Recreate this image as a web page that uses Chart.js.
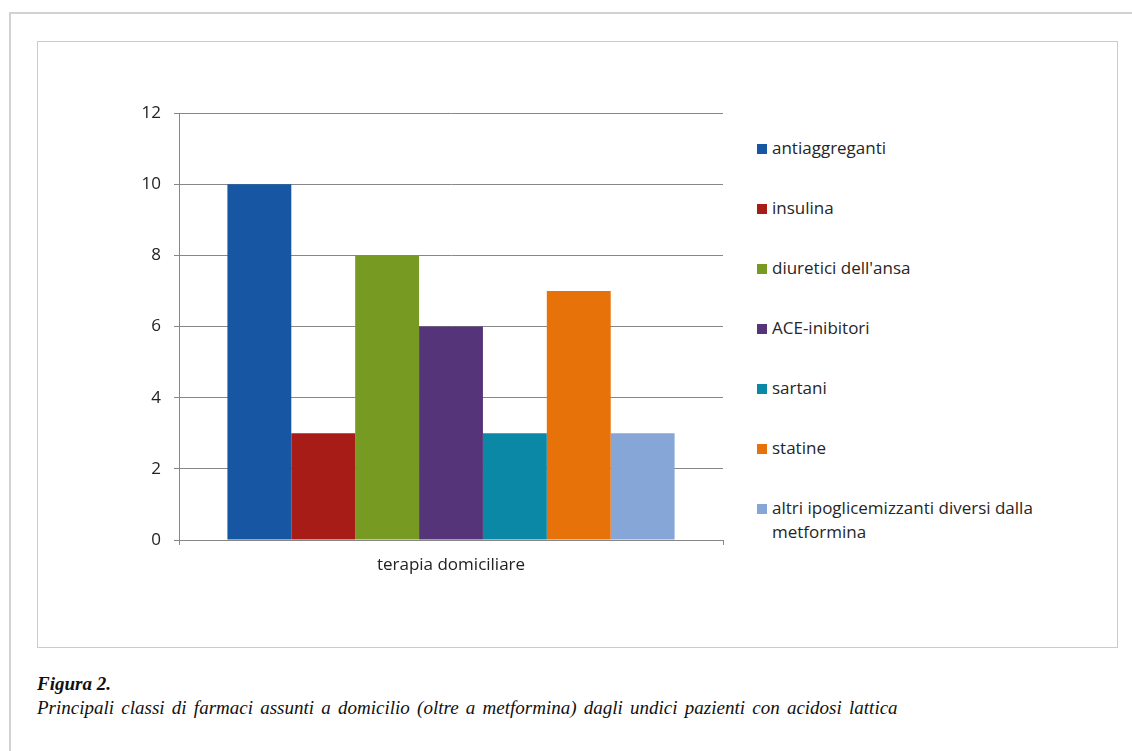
<!DOCTYPE html>
<html>
<head>
<meta charset="utf-8">
<script src="https://cdn.jsdelivr.net/npm/chart.js@4"></script>
<style>
    html, body { margin: 0; padding: 0; background: #fff; }
    body { width: 1132px; height: 751px; position: relative; overflow: hidden; }
    .outer { position: absolute; left: 9px; top: 12px; width: 1140px; height: 760px;
             border-left: 2px solid #d2d2d2; border-top: 2px solid #d2d2d2; }
    .inner { position: absolute; left: 37px; top: 41px; width: 1079px; height: 605px;
             border: 1px solid #cbcbcb; }
    #wrap { position: absolute; left: 100px; top: 90px; width: 640px; height: 500px; }
    #legend { position: absolute; left: 756px; top: 136px; width: 300px;
              font-family: "Open Sans", Lato, sans-serif; font-size: 17px; color: #262626; }
    .item { position: relative; padding-left: 16px; height: 60px; line-height: 24px; }
    .sw { position: absolute; left: 1px; top: 8px; width: 10px; height: 10px; }
    .caption { position: absolute; left: 37px; top: 672px; font-family: "Liberation Serif", serif;
               font-style: italic; font-size: 19px; color: #111; line-height: 24px; }
    .caption b { font-weight: bold; }
</style>
</head>
<body>
<div class="outer"></div>
<div class="inner"></div>
<div id="wrap"><canvas id="farmaciChart"></canvas></div>
<div id="legend"></div>
<div class="caption">
    <b>Figura 2.</b><br>
    <span style="word-spacing: 2.5px">Principali classi di farmaci assunti a domicilio (oltre a metformina) dagli undici pazienti con acidosi lattica</span>
</div>

<script>
// DATA
const categories = ['terapia domiciliare'];
const classi = ['antiaggreganti', 'insulina', "diuretici dell'ansa", 'ACE-inibitori',
                'sartani', 'statine', 'altri ipoglicemizzanti diversi dalla metformina'];
const pazienti = [10, 3, 8, 6, 3, 7, 3];
const colori = ['#1656a2', '#a71c17', '#779a22', '#553479', '#0b88a6', '#e8720a', '#86a6d7'];
const yTicks = [0, 2, 4, 6, 8, 10, 12];

const axisColor = '#878787';
const fontFam   = '"Open Sans", Lato, sans-serif';

// legend (html, so the long label can wrap like the original)
const legendEl = document.getElementById('legend');
classi.forEach((c, i) => {
    const item = document.createElement('div');
    item.className = 'item';
    item.innerHTML = `<span class="sw" style="background:${colori[i]}"></span>${c}`;
    legendEl.appendChild(item);
});

const ctx = document.getElementById('farmaciChart').getContext('2d');
new Chart(ctx, {
    type: 'bar',
    data: {
        labels: categories,
        datasets: classi.map((c, i) => ({
            label: c,
            data: [pazienti[i]],
            backgroundColor: colori[i],
            borderWidth: 0
        }))
    },
    options: {
        responsive: true,
        maintainAspectRatio: false,
        animation: false,
        layout: { padding: { top: 22, right: 17, left: 0, bottom: 0 } },
        plugins: {
            legend: { display: false },
            tooltip: { enabled: false }
        },
        datasets: {
            bar: { categoryPercentage: 0.822, barPercentage: 1 }
        },
        scales: {
            y: {
                min: 0,
                max: 12,
                afterFit: scale => { scale.width = 79; },
                afterBuildTicks: scale => { scale.ticks = yTicks.map(v => ({ value: v })); },
                border: { display: true, color: axisColor, width: 1 },
                grid: { color: axisColor, lineWidth: 1, tickLength: 5, drawTicks: true },
                ticks: {
                    padding: 13,
                    color: '#222',
                    font: { family: fontFam, size: 17 }
                }
            },
            x: {
                afterFit: scale => { scale.height = 50; },
                border: { display: true, color: axisColor, width: 1 },
                grid: { drawOnChartArea: false, color: axisColor, tickLength: 5, offset: true },
                ticks: {
                    padding: 10,
                    color: '#222',
                    font: { family: fontFam, size: 17 }
                }
            }
        }
    }
});
</script>
</body>
</html>
